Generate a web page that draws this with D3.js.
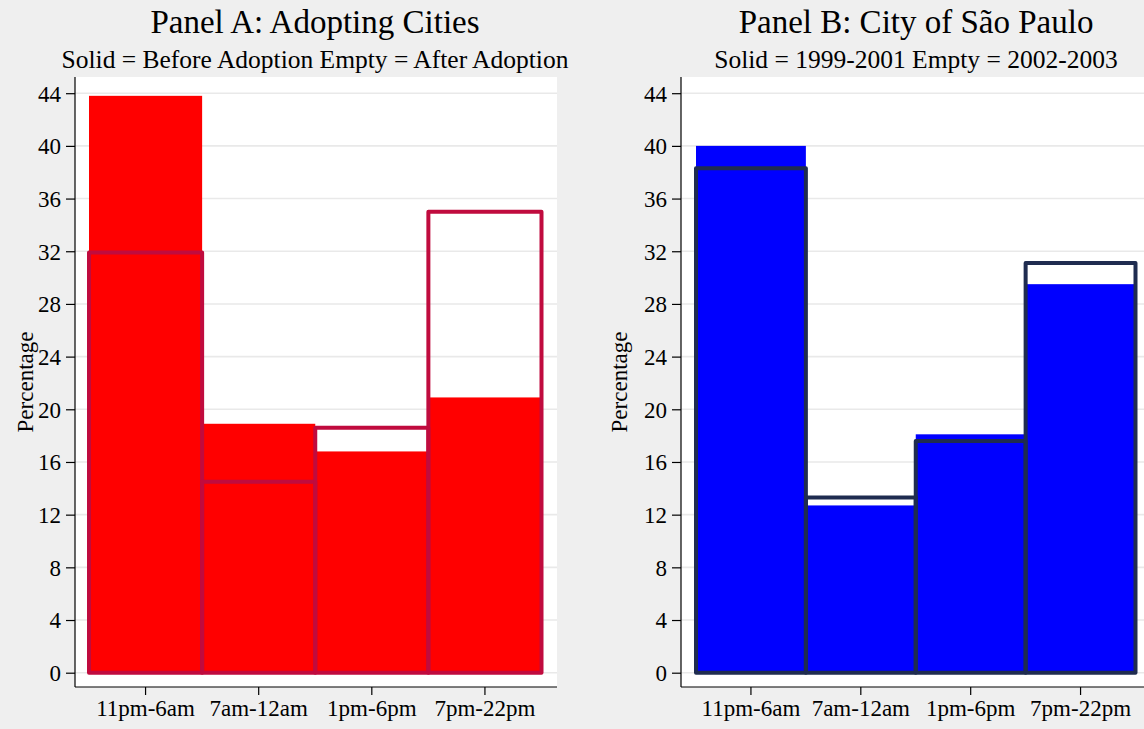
<!DOCTYPE html>
<html>
<head>
<meta charset="utf-8">
<script src="https://cdn.jsdelivr.net/npm/d3@7"></script>
<style>
  html, body { margin: 0; padding: 0; background: #efefef; }
  svg { display: block; }
  svg text { font-family: "Liberation Serif", "Times New Roman", Tinos, serif; fill: #000; }
</style>
</head>
<body>
<svg id="chart" width="1144" height="729"></svg>
<script>
// Share of events by time of day
const periods = ["11pm-6am", "7am-12am", "1pm-6pm", "7pm-22pm"];
const yTicks = [0, 4, 8, 12, 16, 20, 24, 28, 32, 36, 40, 44];

// Panel A: adopting cities
const adoptBefore = [43.8, 18.9, 16.8, 20.9];   // solid
const adoptAfter  = [31.9, 14.5, 18.6, 35.0];   // empty

// Panel B: São Paulo
const spEarly = [40.0, 12.7, 18.1, 29.5];       // 1999-2001, solid
const spLate  = [38.3, 13.3, 17.6, 31.1];       // 2002-2003, empty

const FONT = "Liberation Serif, Times New Roman, serif";
const svg = d3.select("#chart");

const panels = [
  {
    title: "Panel A: Adopting Cities",
    subtitle: "Solid = Before Adoption Empty = After Adoption",
    titleX: 315, subX: 315,
    plotL: 75, plotR: 557, barL: 89, barR: 541.5,
    solid: adoptBefore, empty: adoptAfter,
    fill: "#ff0000", stroke: "#c00b3e",
    labelX: 25
  },
  {
    title: "Panel B: City of São Paulo",
    subtitle: "Solid = 1999-2001 Empty = 2002-2003",
    titleX: 916, subX: 916,
    plotL: 681, plotR: 1163, barL: 696, barR: 1135.5,
    solid: spEarly, empty: spLate,
    fill: "#0000ff", stroke: "#1f2c50",
    labelX: 619
  }
];

const plotTop = 77, plotBottom = 687;
const y = d3.scaleLinear().domain([0, 44]).range([672.7, 93.2]);

panels.forEach(p => {
  const g = svg.append("g");

  // plot background
  g.append("rect")
    .attr("x", p.plotL).attr("y", plotTop)
    .attr("width", p.plotR - p.plotL).attr("height", plotBottom - plotTop)
    .attr("fill", "#ffffff");

  // horizontal grid
  g.selectAll("line.grid").data(yTicks).join("line")
    .attr("class", "grid")
    .attr("x1", p.plotL).attr("x2", p.plotR)
    .attr("y1", d => y(d)).attr("y2", d => y(d))
    .attr("stroke", "#e9e9e9").attr("stroke-width", 1.6);

  const x = d3.scaleBand().domain(periods).range([p.barL, p.barR]).padding(0);

  // solid bars
  g.selectAll("rect.solid").data(p.solid).join("rect")
    .attr("class", "solid")
    .attr("x", (d, i) => x(periods[i]))
    .attr("width", x.bandwidth())
    .attr("y", d => y(d))
    .attr("height", d => y(0) - y(d))
    .attr("fill", p.fill);

  // empty bars
  g.selectAll("rect.empty").data(p.empty).join("rect")
    .attr("class", "empty")
    .attr("x", (d, i) => x(periods[i]))
    .attr("width", x.bandwidth())
    .attr("y", d => y(d))
    .attr("height", d => y(0) - y(d))
    .attr("fill", "none")
    .attr("stroke", p.stroke)
    .attr("stroke-width", 4)
    .attr("stroke-linejoin", "round");

  // y axis
  const yAxis = d3.axisLeft(y).tickValues(yTicks).tickSize(9).tickPadding(5);
  const ya = g.append("g")
    .attr("transform", `translate(${p.plotL},0)`)
    .call(yAxis)
    .attr("font-family", FONT).attr("font-size", 23);
  ya.select(".domain").attr("d", `M-0,${plotTop}V${plotBottom}`).attr("stroke", "#000").attr("stroke-width", 1.2);
  ya.selectAll(".tick line").attr("stroke", "#000").attr("stroke-width", 1.2);
  ya.selectAll(".tick text").attr("dy", "0.34em");

  // x axis
  const xAxis = d3.axisBottom(x).tickSize(8).tickPadding(5);
  const xa = g.append("g")
    .attr("transform", `translate(0,${plotBottom})`)
    .call(xAxis)
    .attr("font-family", FONT).attr("font-size", 23);
  xa.select(".domain").attr("d", `M${p.plotL},0H${p.plotR}`).attr("stroke", "#000").attr("stroke-width", 1.2);
  xa.selectAll(".tick line").attr("stroke", "#000").attr("stroke-width", 1.2);

  // axis title
  g.append("text")
    .attr("transform", `translate(${p.labelX},${(plotTop + plotBottom) / 2}) rotate(-90)`)
    .attr("text-anchor", "middle")
    .attr("dy", "0.35em")
    .attr("font-size", 23)
    .text("Percentage");

  // titles
  g.append("text")
    .attr("x", p.titleX).attr("y", 33)
    .attr("text-anchor", "middle")
    .attr("font-size", 33)
    .text(p.title);
  g.append("text")
    .attr("x", p.subX).attr("y", 68)
    .attr("text-anchor", "middle")
    .attr("font-size", 25.5)
    .text(p.subtitle);
});
</script>
</body>
</html>
